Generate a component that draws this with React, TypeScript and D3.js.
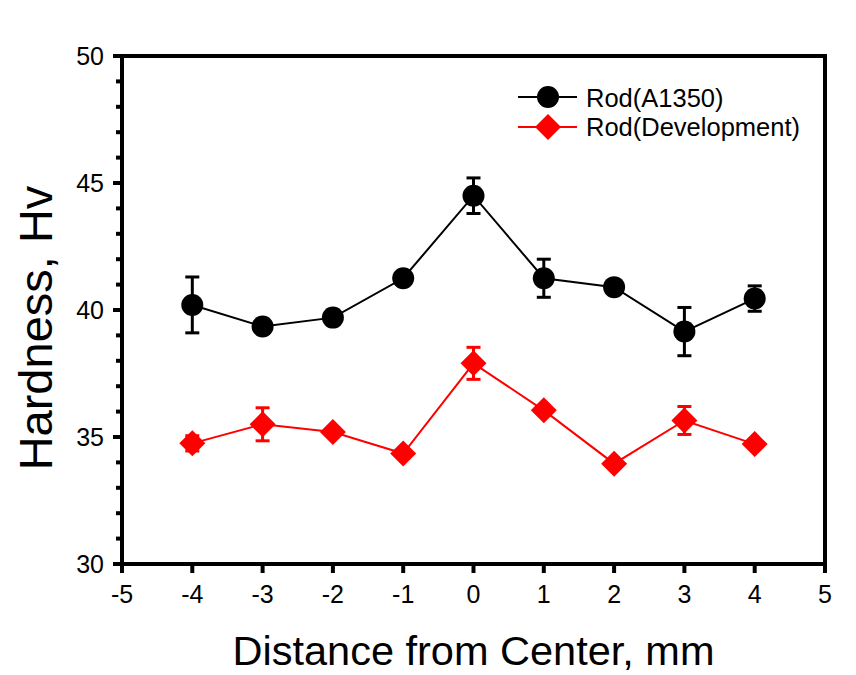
import React from "react";
import * as d3 from "d3";

const positions = [-4, -3, -2, -1, 0, 1, 2, 3, 4];
const rodA1350 = [40.2, 39.35, 39.7, 41.25, 44.5, 41.25, 40.9, 39.15, 40.45];
const rodA1350Err = [1.1, 0, 0, 0, 0.7, 0.75, 0, 0.95, 0.5];
const rodDev = [34.75, 35.5, 35.2, 34.35, 37.9, 36.05, 33.95, 35.65, 34.72];
const rodDevErr = [0.3, 0.65, 0, 0, 0.63, 0, 0, 0.55, 0];
const xTicks = [-5, -4, -3, -2, -1, 0, 1, 2, 3, 4, 5];
const yTicks = [30, 35, 40, 45, 50];

const W = 856;
const H = 675;
const margin = { left: 122, right: 31, top: 56, bottom: 111 };

export default function App() {
  const x = d3.scaleLinear().domain([-5, 5]).range([margin.left, W - margin.right]);
  const y = d3.scaleLinear().domain([30, 50]).range([H - margin.bottom, margin.top]);
  const minor = d3.range(30, 51, 1).filter((v) => v % 5 !== 0);
  const font = "Liberation Sans, Arial, sans-serif";

  const line = d3
    .line<number>()
    .x((_, i) => x(positions[i]))
    .y((d) => y(d));

  const diamond = (cx: number, cy: number, r: number) =>
    `M${cx},${cy - r}L${cx + r},${cy}L${cx},${cy + r}L${cx - r},${cy}Z`;

  const errBars = (vals: number[], errs: number[], color: string) =>
    vals.map((v, i) =>
      errs[i] > 0 ? (
        <g key={i} stroke={color} strokeWidth={3}>
          <line x1={x(positions[i])} x2={x(positions[i])} y1={y(v - errs[i])} y2={y(v + errs[i])} />
          <line x1={x(positions[i]) - 7} x2={x(positions[i]) + 7} y1={y(v + errs[i])} y2={y(v + errs[i])} />
          <line x1={x(positions[i]) - 7} x2={x(positions[i]) + 7} y1={y(v - errs[i])} y2={y(v - errs[i])} />
        </g>
      ) : null
    );

  const x0 = x(-5);
  const x1 = x(5);
  const y0 = y(30);
  const y1 = y(50);

  return (
    <svg width={W} height={H} style={{ position: "absolute", left: 0, top: 0 }} fontFamily={font}>
      <rect width={W} height={H} fill="#fff" />
      {/* series */}
      <path d={line(rodA1350) ?? ""} fill="none" stroke="#000" strokeWidth={2} />
      <path d={line(rodDev) ?? ""} fill="none" stroke="#ff0000" strokeWidth={2} />
      {errBars(rodA1350, rodA1350Err, "#000")}
      {errBars(rodDev, rodDevErr, "#ff0000")}
      {rodA1350.map((v, i) => (
        <circle key={i} cx={x(positions[i])} cy={y(v)} r={11} fill="#000" />
      ))}
      {rodDev.map((v, i) => (
        <path key={i} d={diamond(x(positions[i]), y(v), 13)} fill="#ff0000" />
      ))}

      {/* frame */}
      <rect x={x0} y={y1} width={x1 - x0} height={y0 - y1} fill="none" stroke="#000" strokeWidth={4} />

      {/* x ticks */}
      {xTicks.map((t) => (
        <g key={t}>
          <line x1={x(t)} x2={x(t)} y1={y0} y2={y0 + 9} stroke="#000" strokeWidth={4} />
          <text x={x(t)} y={y0 + 39} textAnchor="middle" fontSize={25}>
            {t}
          </text>
        </g>
      ))}

      {/* y ticks */}
      {yTicks.map((t) => (
        <g key={t}>
          <line x1={x0} x2={x0 - 9} y1={y(t)} y2={y(t)} stroke="#000" strokeWidth={4} />
          <text x={x0 - 18} y={y(t) + 9} textAnchor="end" fontSize={25}>
            {t}
          </text>
        </g>
      ))}
      {minor.map((t) => (
        <line key={t} x1={x0} x2={x0 - 6} y1={y(t)} y2={y(t)} stroke="#000" strokeWidth={4} />
      ))}

      {/* axis titles */}
      <text x={(x0 + x1) / 2} y={665} textAnchor="middle" fontSize={41.5}>
        Distance from Center, mm
      </text>
      <text transform={`translate(52, 328) rotate(-90)`} textAnchor="middle" fontSize={47}>
        Hardness, Hv
      </text>

      {/* legend */}
      <g>
        <line x1={518} x2={577} y1={97} y2={97} stroke="#000" strokeWidth={2} />
        <circle cx={548} cy={97} r={11} fill="#000" />
        <text x={586} y={107} fontSize={25.5}>
          Rod(A1350)
        </text>
        <line x1={518} x2={577} y1={127} y2={127} stroke="#ff0000" strokeWidth={2} />
        <path d={diamond(548, 127, 13)} fill="#ff0000" />
        <text x={586} y={136} fontSize={25.5}>
          Rod(Development)
        </text>
      </g>
    </svg>
  );
}
